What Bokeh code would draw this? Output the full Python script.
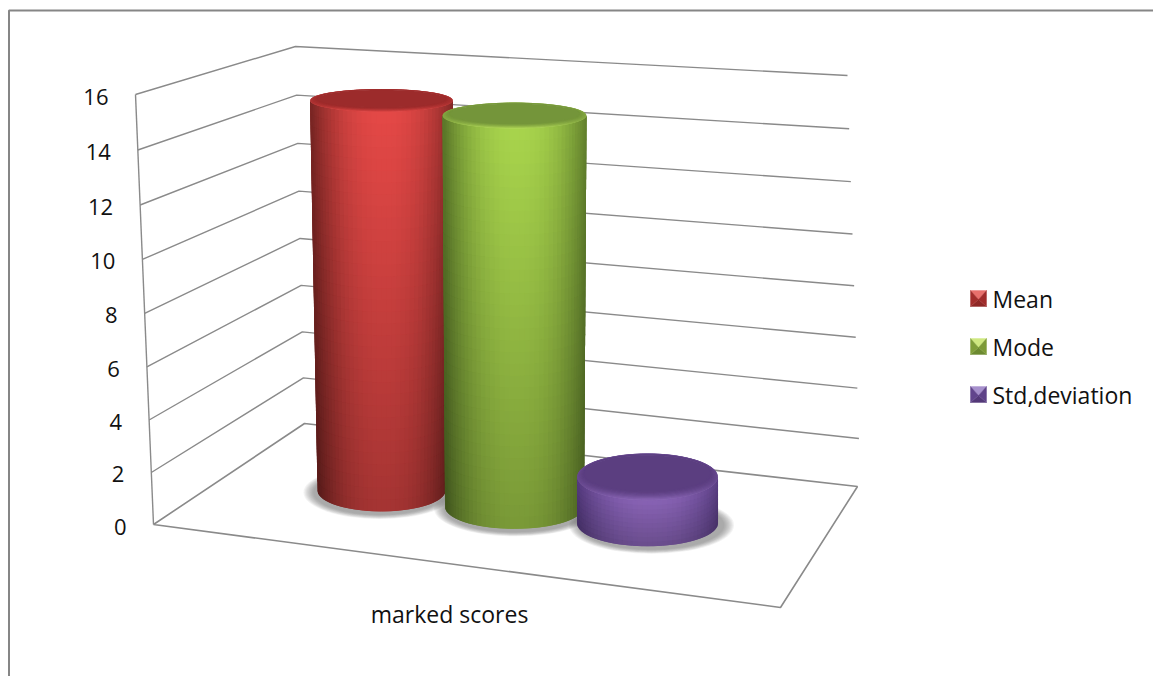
import numpy as np
from bokeh.embed import file_html
from bokeh.models import ColumnDataSource, Range1d
from bokeh.plotting import figure
from bokeh.resources import INLINE

# Chart content
category = "marked scores"
series_names = ["Mean", "Mode", "Std,deviation"]
series_values = [15.5, 15.55, 1.9]
tick_values = [0, 2, 4, 6, 8, 10, 12, 14, 16]
axis_max = 16

# Oblique box the chart lives in, in page pixels
FRONT_LEFT = ((153, 524), (135, 94))
BACK_LEFT = ((304, 423), (295, 46))
BACK_RIGHT = ((860, 488), (847, 75))
FLOOR = [(153, 524), (304, 423), (857, 486), (780, 607)]
GRID = "#8a8a8a"
TEXT = "#111111"
FONT = "Open Sans"

# Column layout on the floor and cylinder radii (foot, head)
U0, DU, DEPTH = 0.254, 0.226, 0.52
COLUMN_HEIGHT = 403
RX = [(64, 71.5), (69.5, 72), (70.5, 70.5)]
RY = [(21, 11.5), (22, 13), (23, 23.5)]

# Shading per series: rim dark, body bright, cap face, cap highlight
COLORS = [
    ("#7c2624", "#e44846", "#9c2b2b", "#e64a48"),
    ("#5c7a2a", "#a8d44c", "#74953a", "#b4dc58"),
    ("#573c80", "#8762b4", "#5b3e80", "#8c68b8"),
]
LEGEND_SHADES = [
    ("#e8706c", "#8f2826", "#a32e2c", "#a02c2b"),
    ("#cfe880", "#6c8a30", "#7f9e38", "#7c9a36"),
    ("#a690cc", "#533878", "#61448c", "#5e4288"),
]


def rgb(h):
    return np.array([int(h[i:i + 2], 16) for i in (1, 3, 5)], dtype=float)


def mix(a, b, w):
    c = rgb(a) * (1 - w) + rgb(b) * w
    return "#%02x%02x%02x" % tuple(int(round(x)) for x in c)


def warp(t):
    # Levels spread slightly towards the top of the wall
    return 0.963 * t + 0.037 * t * t


def on_edge(edge, v):
    t = warp(v / axis_max)
    (x0, y0), (x1, y1) = edge
    return x0 + (x1 - x0) * t, y0 + (y1 - y0) * t


def floor_point(u, d):
    fl, bl, br, fr = [np.array(c, dtype=float) for c in FLOOR]
    left = fl + (bl - fl) * d
    right = fr + (br - fr) * d
    return left + (right - left) * u


p = figure(
    width=1153, height=676, output_backend="svg", toolbar_location=None,
    x_range=Range1d(0, 1153), y_range=Range1d(676, 0),
    x_axis_type=None, y_axis_type=None, min_border=0,
    outline_line_color=None, background_fill_color="white",
)
p.grid.visible = False

# Chart area border: only the left and top edges fall inside the page
p.line([8.5, 8.5, 1153], [676, 10, 10], line_color="#868686", line_width=2)

# Back wall levels, side wall levels and the floor outline
for v in tick_values[1:]:
    a, b, c = on_edge(FRONT_LEFT, v), on_edge(BACK_LEFT, v), on_edge(BACK_RIGHT, v)
    p.line([a[0], b[0], c[0]], [a[1], b[1], c[1]], line_color=GRID, line_width=1.4)
corners = FLOOR + [FLOOR[0]]
p.line([c[0] for c in corners], [c[1] for c in corners], line_color=GRID, line_width=1.6)
vx, vy = zip(*[on_edge(FRONT_LEFT, v) for v in (0, axis_max)])
p.line(list(vx), list(vy), line_color=GRID, line_width=1.4)

# Value axis labels follow the slanted front edge
lab = [on_edge(FRONT_LEFT, v) for v in tick_values]
p.text([q[0] - 27 for q in lab], [q[1] + 2 for q in lab], text=[str(v) for v in tick_values],
       text_font={"value": FONT}, text_font_size="22px", text_color=TEXT,
       text_align="right", text_baseline="middle")

# Category label under the front edge
mid = floor_point(0.474, -0.01)
p.text([mid[0]], [613], text=[category], text_font={"value": FONT}, text_font_size="23px",
       text_color=TEXT, text_align="center", text_baseline="middle")

centers = [floor_point(U0 + i * DU, DEPTH) for i in range(len(series_values))]

# Soft contact shadows under all columns
sx, sy, sw, sh, sa = [], [], [], [], []
for i, c in enumerate(centers):
    for k in range(9):
        grow = 1 - k / 9
        sx.append(c[0] + (-2 + 3 * i))
        sy.append(c[1] + 2)
        sw.append(2 * (RX[i][0] + 1 + 11 * grow))
        sh.append(2 * (RY[i][0] + 1 + 4.5 * grow))
        sa.append(0.07)
p.ellipse(sx, sy, width=sw, height=sh, fill_color="#505050", fill_alpha=sa, line_color=None)

ROWS, COLS = 34, 44
for i, value in enumerate(series_values):
    cx, cy = centers[i]
    dark, bright, face, hi = COLORS[i]
    head = warp(value / axis_max)
    lift = COLUMN_HEIGHT * head
    rows = ROWS if value > 5 else 10
    s_edges = np.sin(np.linspace(-np.pi / 2, np.pi / 2, COLS + 1))

    def body(s, t):
        rx = RX[i][0] + (RX[i][1] - RX[i][0]) * t
        ry = RY[i][0] + (RY[i][1] - RY[i][0]) * t
        return cx + rx * s, cy - lift * t + ry * np.sqrt(max(0.0, 1 - s * s))

    xs, ys, cols = [], [], []
    # Each cell reaches over its next neighbours; later cells paint on top, so no seams show
    for r in range(rows):
        t0, t1 = r / rows, min(r + 2, rows) / rows
        tm = (r + 0.5) / rows
        fade = 0.72 + 0.28 * tm if value > 5 else 0.78 + 0.22 * tm
        for k in range(COLS):
            s0, s1 = s_edges[k], s_edges[min(k + 2, COLS)]
            q = [body(s0, t0), body(s1, t0), body(s1, t1), body(s0, t1)]
            xs.append([a for a, _ in q])
            ys.append([b for _, b in q])
            s = (s_edges[k] + s_edges[k + 1]) / 2 - 0.03
            glow = 1 - min(1, abs(s)) ** 2.3
            cols.append(mix("#000000", mix(dark, bright, glow), fade))
    # Bevelled cap: rings run from the lit outer edge in to the flat face
    tx, ty = cx, cy - lift
    rx, ry = RX[i][1], RY[i][1]
    RINGS, ARCS = 8, 72
    angles = np.linspace(0, 2 * np.pi, ARCS + 1)

    def ring(w, a):
        k = 1 - 0.11 * w
        m = 1 - 0.24 * w
        return tx + rx * k * np.cos(a), ty - 0.16 * ry * w + ry * m * np.sin(a)

    for r in range(RINGS):
        w0, w1 = r / RINGS, (r + 2) / RINGS
        for k in range(ARCS):
            a0, a1 = angles[k], angles[k] + 2 * (angles[1] - angles[0])
            q = [ring(w0, a0), ring(w0, a1), ring(w1, a1), ring(w1, a0)]
            xs.append([a for a, _ in q])
            ys.append([b for _, b in q])
            front = max(0.0, np.sin(angles[k] + 0.5 * (angles[1] - angles[0])))
            strength = (1 - (r + 0.5) / RINGS) ** 1.4 * (0.3 + 0.7 * front ** 2.2)
            cols.append(mix(face, hi, strength))
    ang = np.linspace(0, 2 * np.pi, 73)
    xs.append(list(tx + rx * 0.89 * np.cos(ang)))
    ys.append(list(ty - 0.16 * ry + ry * 0.76 * np.sin(ang)))
    cols.append(face)
    p.patches("xs", "ys", fill_color="c", line_color=None,
              source=ColumnDataSource(dict(xs=xs, ys=ys, c=cols)))

# Legend with bevelled swatches
LEG_X, LEG_Y, LEG_DY, SW = 970, 298, 48, 16
for i, name in enumerate(series_names):
    y = LEG_Y + i * LEG_DY
    top, bottom, side_l, side_r = LEGEND_SHADES[i]
    x0, x1, y0, y1 = LEG_X, LEG_X + SW, y - SW / 2, y + SW / 2
    mx, my = (x0 + x1) / 2, y + 1
    xs = [[x0, x1, mx], [x0, x1, mx], [x0, mx, x0], [x1, mx, x1]]
    ys = [[y0, y0, my], [y1, y1, my], [y0, my, y1], [y0, my, y1]]
    p.patches(xs, ys, fill_color=[top, bottom, side_l, side_r],
              line_color=[top, bottom, side_l, side_r], line_width=0.4)
    p.text([LEG_X + 22], [y], text=[name], text_font={"value": FONT}, text_font_size="23px",
           text_color=TEXT, text_align="left", text_baseline="middle")

open("out.html", "w").write(file_html(p, INLINE))
